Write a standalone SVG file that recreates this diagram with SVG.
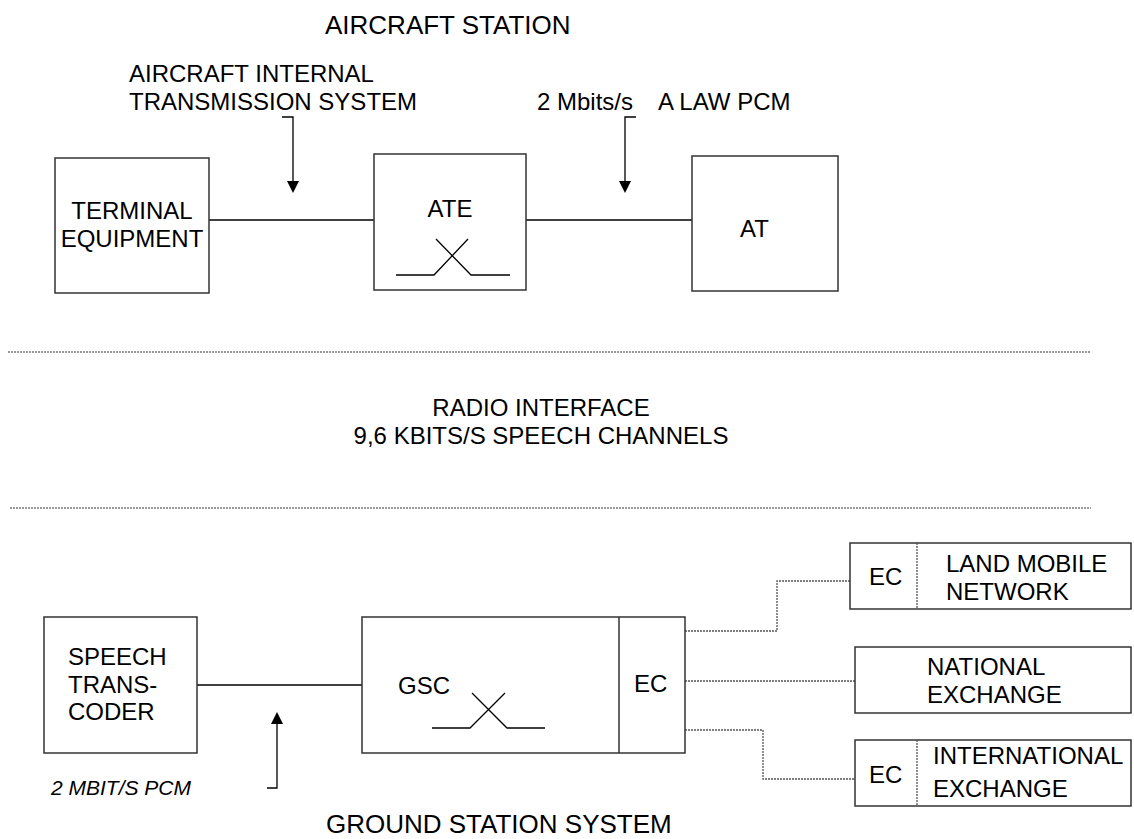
<svg xmlns="http://www.w3.org/2000/svg" width="1134" height="839" viewBox="0 0 1134 839">
<defs>
<style>
text{font-family:"Liberation Sans",Arial,sans-serif;fill:#000;font-size:24px}
.title{font-size:26px}
.radio{font-size:24px}
.ital{font-style:italic;font-size:21px}
.box{fill:#fff;stroke:#333;stroke-width:1.5}
.ln{fill:none;stroke:#000;stroke-width:1.3}
.dot{fill:none;stroke:#555;stroke-width:1.3;stroke-dasharray:2 1}
.sep{fill:none;stroke:#777;stroke-width:1.5;stroke-dasharray:2 1}
.arr{fill:none;stroke:#000;stroke-width:1.3;marker-end:url(#head)}
</style>
<marker id="head" viewBox="0 0 12 12" refX="2" refY="6" markerWidth="12" markerHeight="12" markerUnits="userSpaceOnUse" orient="auto">
<path d="M0,0 L12,6 L0,12 z" fill="#000"/>
</marker>
</defs>
<rect width="1134" height="839" fill="#fff"/>

<g id="titles">
<text class="title" x="325" y="34">AIRCRAFT STATION</text>
<text class="radio" x="541" y="416" text-anchor="middle">RADIO INTERFACE</text>
<text class="radio" x="541" y="444" text-anchor="middle">9,6 KBITS/S SPEECH CHANNELS</text>
<text class="title" x="326" y="833">GROUND STATION SYSTEM</text>
</g>

<g id="separators">
<line class="sep" x1="8" y1="352" x2="1090" y2="352"/>
<line class="sep" x1="10" y1="508" x2="1091" y2="508"/>
</g>

<g id="labels">
<text x="129" y="82">AIRCRAFT INTERNAL</text>
<text x="129" y="110">TRANSMISSION SYSTEM</text>
<text x="537" y="110">2 Mbits/s</text>
<text x="658" y="110">A LAW PCM</text>
<text class="ital" x="51" y="795">2 MBIT/S PCM</text>
</g>

<g id="connectors">
<line class="ln" x1="209" y1="220" x2="374" y2="220"/>
<line class="ln" x1="526" y1="220" x2="692" y2="220"/>
<line class="ln" x1="197" y1="685" x2="362" y2="685"/>
<path class="arr" d="M282,117 H293 V183"/>
<path class="arr" d="M636,117 H625 V183"/>
<path class="arr" d="M267,788 H277 V722"/>
<path class="dot" d="M685,631 H777 V581 H850"/>
<path class="dot" d="M685,681 H855"/>
<path class="dot" d="M685,730 H763 V779 H855"/>
</g>

<g id="terminal-equipment">
<rect class="box" x="55" y="158" width="154" height="135"/>
<text x="132" y="219" text-anchor="middle">TERMINAL</text>
<text x="132" y="247" text-anchor="middle">EQUIPMENT</text>
</g>

<g id="ate">
<rect class="box" x="374" y="154" width="152" height="136"/>
<text x="450" y="217" text-anchor="middle">ATE</text>
<path class="ln" d="M396,275 H434 L468,239 M436,239 L471,275 H510"/>
</g>

<g id="at">
<rect class="box" x="692" y="156" width="146" height="135"/>
<text x="740" y="237">AT</text>
</g>

<g id="speech-transcoder">
<rect class="box" x="44" y="617" width="153" height="136"/>
<text x="68" y="665">SPEECH</text>
<text x="68" y="693">TRANS-</text>
<text x="68" y="720">CODER</text>
</g>

<g id="gsc">
<rect class="box" x="362" y="617" width="323" height="136"/>
<line class="box" x1="619" y1="617" x2="619" y2="753"/>
<text x="398" y="694">GSC</text>
<path class="ln" d="M432,728 H470 L505,693 M472,693 L507,728 H545"/>
<text x="634" y="692">EC</text>
</g>

<g id="land-mobile-network">
<rect class="box" x="850" y="543" width="281" height="66"/>
<line class="dot" x1="917" y1="543" x2="917" y2="609"/>
<text x="869" y="585">EC</text>
<text x="946" y="572">LAND MOBILE</text>
<text x="946" y="600">NETWORK</text>
</g>

<g id="national-exchange">
<rect class="box" x="855" y="647" width="276" height="66"/>
<text x="927" y="675">NATIONAL</text>
<text x="927" y="703">EXCHANGE</text>
</g>

<g id="international-exchange">
<rect class="box" x="855" y="740" width="276" height="66"/>
<line class="dot" x1="917" y1="740" x2="917" y2="806"/>
<text x="869" y="783">EC</text>
<text x="933" y="764">INTERNATIONAL</text>
<text x="933" y="797">EXCHANGE</text>
</g>
</svg>
